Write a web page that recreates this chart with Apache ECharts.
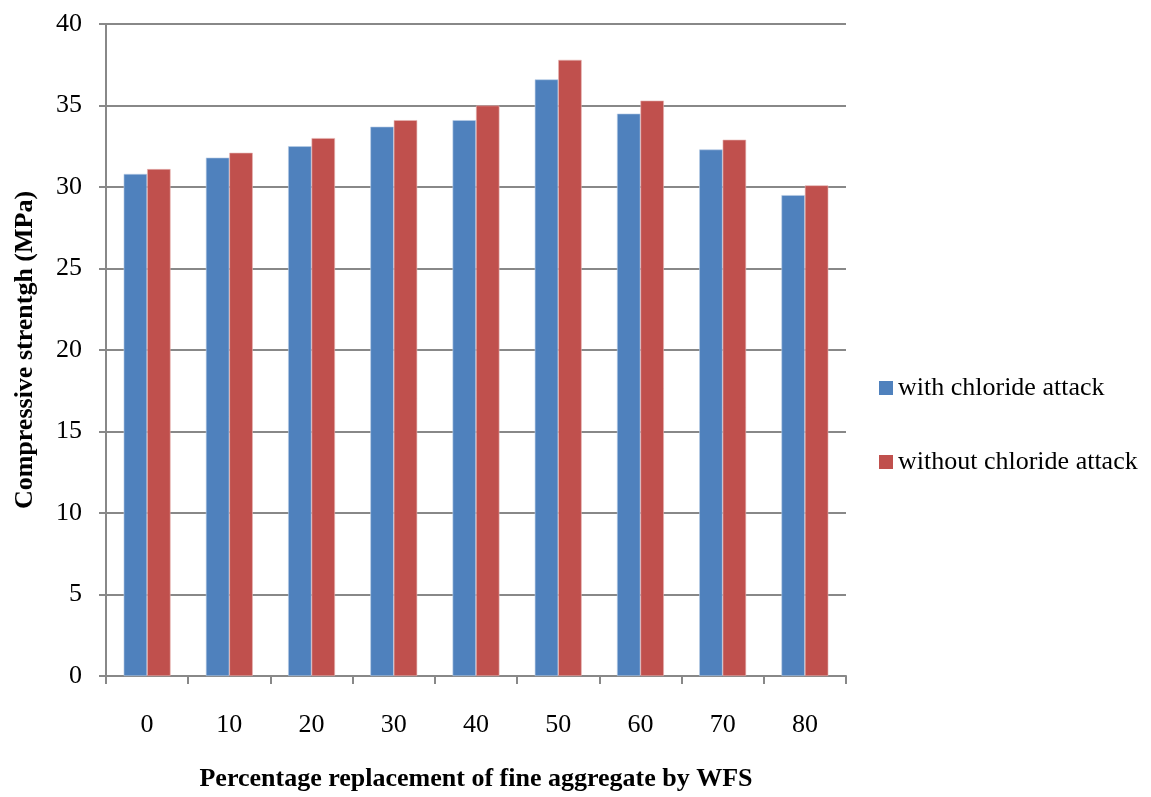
<!DOCTYPE html>
<html>
<head>
<meta charset="utf-8">
<script src="https://cdn.jsdelivr.net/npm/echarts@6/dist/echarts.min.js"></script>
<style>
  html, body { margin: 0; padding: 0; background: #ffffff; }
  #chart { width: 1151px; height: 797px; }
</style>
</head>
<body>
<div id="chart"></div>
<script>
// Replacement levels (%) of fine aggregate by WFS
const categories = ['0', '10', '20', '30', '40', '50', '60', '70', '80'];
// Compressive strength (MPa)
const withChloride = [30.8, 31.8, 32.5, 33.7, 34.1, 36.6, 34.5, 32.3, 29.5];
const withoutChloride = [31.1, 32.1, 33.0, 34.1, 35.0, 37.8, 35.3, 32.9, 30.1];
const seriesNames = ['with chloride attack', 'without chloride attack'];
const seriesColors = ['#4F81BD', '#C0504D'];

const FONT = '"Liberation Serif", "Times New Roman", serif';

const chart = echarts.init(document.getElementById('chart'), null, { renderer: 'canvas' });

chart.setOption({
  animation: false,
  backgroundColor: '#ffffff',
  textStyle: { fontFamily: FONT, color: '#000' },
  grid: { left: 106, right: 305, top: 24, bottom: 121, containLabel: false, outerBoundsMode: 'none' },
  legend: {
    orient: 'vertical',
    left: 874,
    top: 370,
    itemWidth: 14,
    itemHeight: 14,
    itemGap: 48,
    icon: 'rect',
    itemStyle: { borderWidth: 0 },
    textStyle: { fontFamily: FONT, fontSize: 26, color: '#000' },
    data: seriesNames
  },
  xAxis: {
    type: 'category',
    data: categories,
    name: 'Percentage replacement of fine aggregate by WFS',
    nameLocation: 'middle',
    nameGap: 90,
    nameTextStyle: { fontFamily: FONT, fontSize: 26, fontWeight: 'bold', color: '#000' },
    axisLine: { lineStyle: { color: '#888888', width: 2 } },
    axisTick: { show: true, length: 8, lineStyle: { color: '#888888', width: 2 }, alignWithLabel: false },
    axisLabel: { fontFamily: FONT, fontSize: 26, color: '#000', margin: 36 },
    splitLine: { show: false }
  },
  yAxis: {
    type: 'value',
    min: 0,
    max: 40,
    interval: 5,
    name: 'Compressive strentgh (MPa)',
    nameLocation: 'middle',
    nameGap: 68,
    nameRotate: 90,
    nameTextStyle: { fontFamily: FONT, fontSize: 26, fontWeight: 'bold', color: '#000' },
    axisLine: { show: true, lineStyle: { color: '#888888', width: 2 } },
    axisTick: { show: true, length: 7, inside: false, lineStyle: { color: '#888888', width: 2 } },
    axisLabel: { fontFamily: FONT, fontSize: 26, color: '#000', margin: 24 },
    splitLine: { show: true, lineStyle: { color: '#888888', width: 2 } }
  },
  series: [
    {
      name: seriesNames[0],
      type: 'bar',
      data: withChloride,
      barWidth: '28.5%',
      barGap: '0%',
      itemStyle: { color: seriesColors[0], borderColor: '#b9cde6', borderWidth: 0.6 }
    },
    {
      name: seriesNames[1],
      type: 'bar',
      data: withoutChloride,
      barWidth: '28.5%',
      barGap: '0%',
      itemStyle: { color: seriesColors[1], borderColor: '#e6b5b4', borderWidth: 0.6 }
    }
  ]
});
</script>
</body>
</html>
